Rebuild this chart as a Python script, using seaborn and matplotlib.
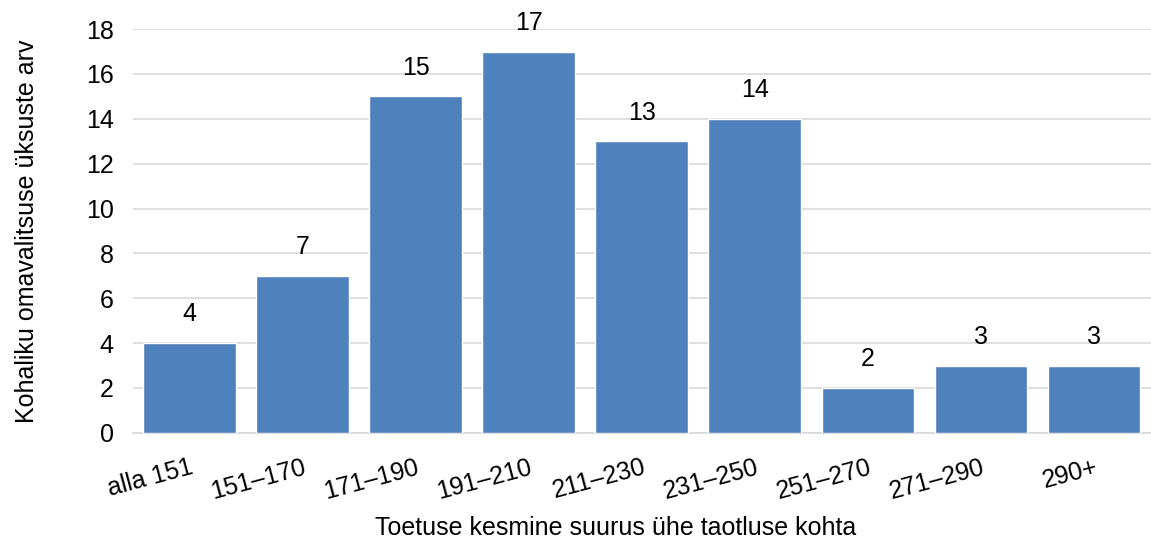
import matplotlib
matplotlib.use("Agg")
import matplotlib.pyplot as plt
import seaborn as sns
import pandas as pd

# Data
categories = ["alla 151", "151–170", "171–190", "191–210", "211–230",
              "231–250", "251–270", "271–290", "290+"]
counts = [4, 7, 15, 17, 13, 14, 2, 3, 3]
y_ticks = list(range(0, 19, 2))

df = pd.DataFrame({"Vahemik": categories, "Arv": counts})

sns.set_theme(style="white")
plt.rcParams['font.family'] = ['Liberation Sans', 'DejaVu Sans']
plt.rcParams['text.color'] = 'black'
plt.rcParams['xtick.color'] = 'black'
plt.rcParams['ytick.color'] = 'black'
plt.rcParams['axes.labelcolor'] = 'black'

fig = plt.figure(figsize=(11.51, 5.39), dpi=100)
ax = fig.add_axes([0.1156, 0.197, 0.884, 0.749])

sns.barplot(data=df, x="Vahemik", y="Arv", color="#4F81BD", saturation=1,
            width=0.82, ax=ax, zorder=3)

for c in ax.containers:
    ax.bar_label(c, labels=[str(v) for v in counts], padding=12, fontsize=18, color="black")

ax.set_xlim(-0.5, len(categories) - 0.5)
ax.set_ylim(0, 18)
ax.set_yticks(y_ticks)
ax.set_yticklabels([str(t) for t in y_ticks], fontsize=18)
ax.yaxis.grid(True, color="#D9D9D9", linewidth=1.2, zorder=0)
ax.set_axisbelow(True)

ax.set_xticks(range(len(categories)))
ax.set_xticklabels(categories, fontsize=18, rotation=15, ha="right", rotation_mode="anchor")
ax.tick_params(axis="x", length=0, pad=16)
ax.tick_params(axis="y", length=0, pad=14)

for s in ["top", "right", "left"]:
    ax.spines[s].set_visible(False)
ax.spines["bottom"].set_color("#D9D9D9")
ax.spines["bottom"].set_linewidth(1.2)

ax.set_xlabel("Toetuse kesmine suurus ühe taotluse kohta", fontsize=18, labelpad=8)
ax.xaxis.set_label_coords(0.474, -0.205)
ax.set_ylabel("Kohaliku omavalitsuse üksuste arv", fontsize=18, labelpad=34)

fig.savefig("out.png", dpi=100)
